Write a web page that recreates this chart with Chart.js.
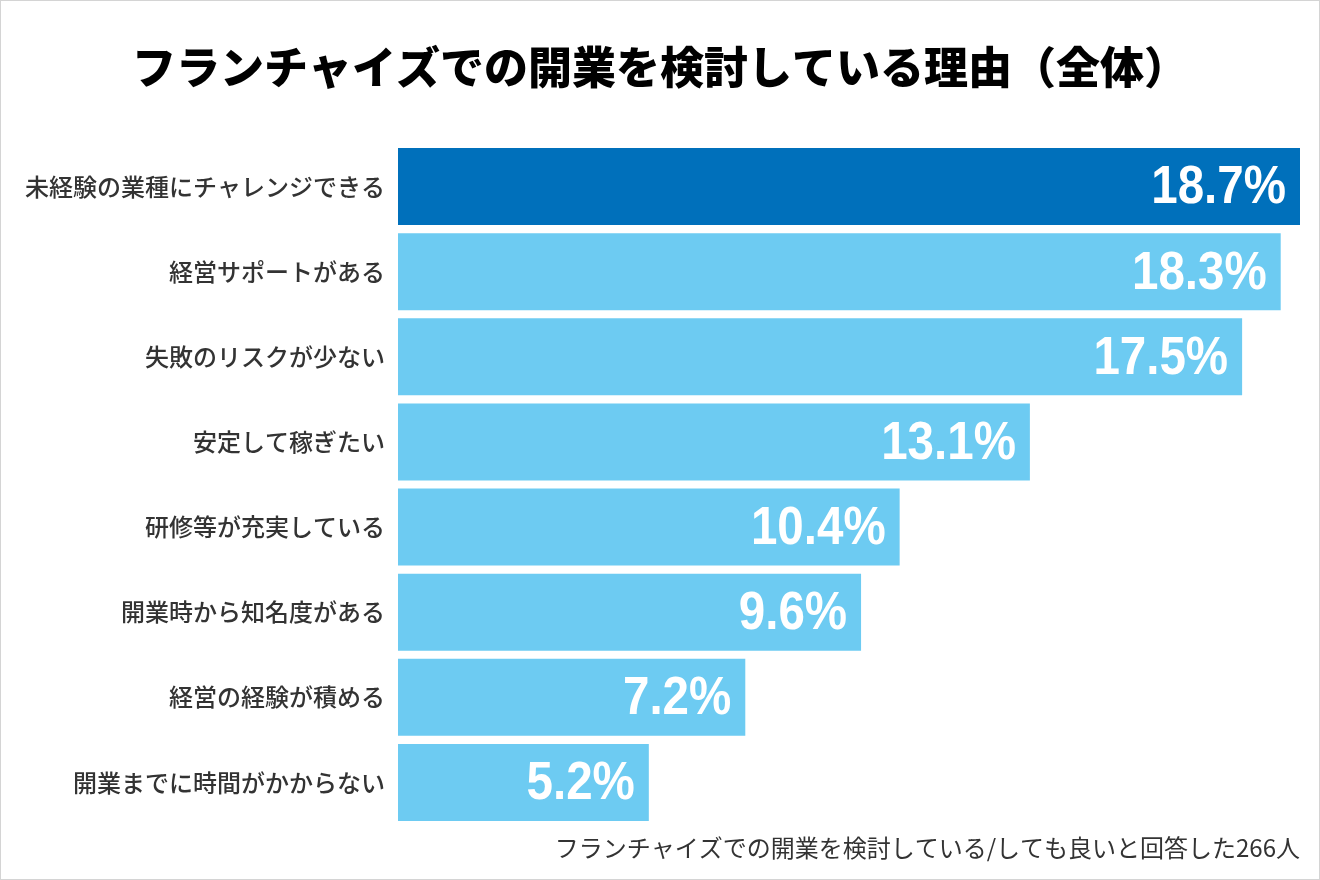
<!DOCTYPE html>
<html>
<head>
<meta charset="utf-8">
<script src="https://cdn.jsdelivr.net/npm/chart.js@4"></script>
<style>
  body { margin: 0; background: #fff; }
  #wrap { width: 1320px; height: 880px; box-sizing: border-box; border: 1px solid #d4d4d4; }
</style>
</head>
<body>
<div id="wrap"><canvas id="myChart" width="1318" height="878"></canvas></div>
<script>
let titleText = 'フランチャイズでの開業を検討している理由（全体）';
let noteText = 'フランチャイズでの開業を検討している/しても良いと回答した266人';

let reasons = [
    '未経験の業種にチャレンジできる',
    '経営サポートがある',
    '失敗のリスクが少ない',
    '安定して稼ぎたい',
    '研修等が充実している',
    '開業時から知名度がある',
    '経営の経験が積める',
    '開業までに時間がかからない'
];
let shares = [18.7, 18.3, 17.5, 13.1, 10.4, 9.6, 7.2, 5.2];

let jpFont = '"Noto Sans CJK JP", "Noto Sans", sans-serif';

// title, footnote and the white numbers on the bars
let textPlugin = {
    id: 'texts',
    afterDatasetsDraw(chart) {
        let ctx = chart.ctx;
        let squeeze = 0.88;
        ctx.save();
        ctx.fillStyle = '#ffffff';
        ctx.font = 'bold 54px "Liberation Sans", sans-serif';
        ctx.textAlign = 'right';
        ctx.textBaseline = 'middle';
        chart.getDatasetMeta(0).data.forEach(function (bar, i) {
            ctx.save();
            ctx.translate(bar.x - 14, bar.y + 2);
            ctx.scale(squeeze, 1);
            ctx.fillText(shares[i].toFixed(1) + '%', 0, 0);
            ctx.restore();
        });

        ctx.fillStyle = '#000000';
        ctx.font = '900 44px ' + jpFont;
        ctx.textAlign = 'center';
        ctx.fillText(titleText, 659, 66);

        ctx.fillStyle = '#333333';
        ctx.font = '400 24px ' + jpFont;
        ctx.textAlign = 'right';
        ctx.fillText(noteText, 1299, 847);
        ctx.restore();
    }
};

let ctx = document.getElementById('myChart').getContext('2d');
let myChart = new Chart(ctx, {
    type: 'bar',
    data: {
        labels: reasons,
        datasets: [{
            data: shares,
            backgroundColor: shares.map(function (v, i) { return i == 0 ? '#0070bb' : '#6dcbf2'; }),
            barPercentage: 0.905,
            categoryPercentage: 1.0
        }]
    },
    options: {
        indexAxis: 'y',
        responsive: false,
        animation: false,
        layout: { padding: { top: 143, bottom: 54, left: 0, right: 19 } },
        plugins: {
            legend: { display: false },
            tooltip: { enabled: false }
        },
        scales: {
            x: {
                display: false,
                min: 0,
                max: 18.7
            },
            y: {
                afterFit: function (scale) { scale.width = 397; },
                grid: { display: false },
                border: { display: false },
                ticks: {
                    color: '#333333',
                    padding: 5,
                    font: { family: jpFont, size: 24, weight: '500' }
                }
            }
        }
    },
    plugins: [textPlugin]
});
</script>
</body>
</html>
